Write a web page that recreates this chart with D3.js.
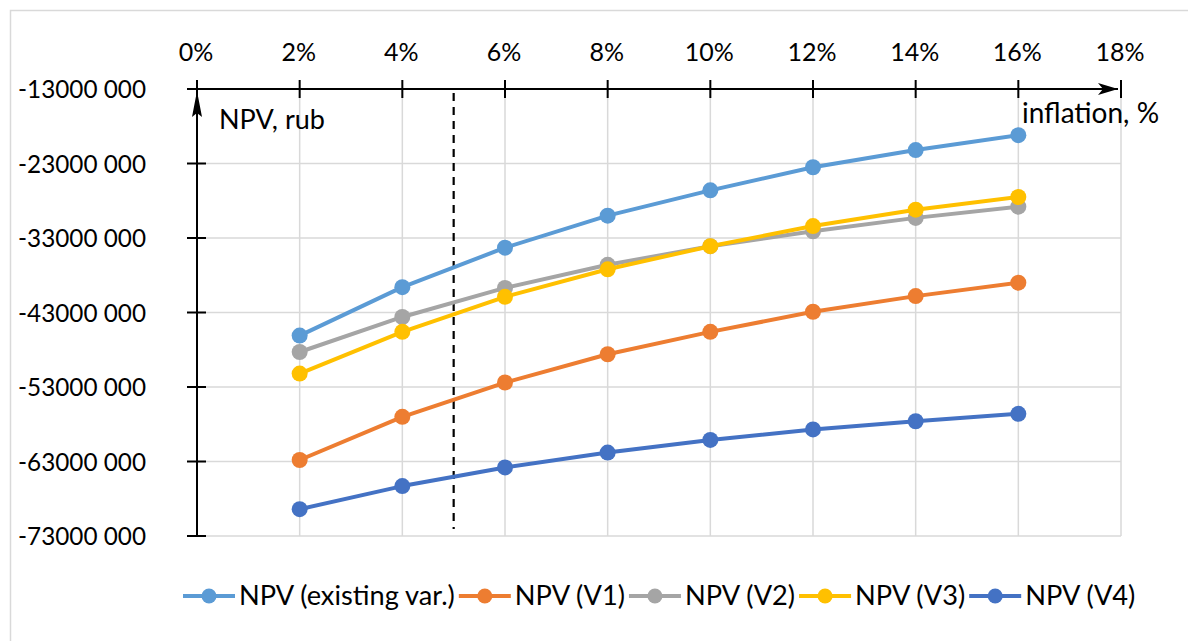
<!DOCTYPE html>
<html>
<head>
<meta charset="utf-8">
<script src="https://cdn.jsdelivr.net/npm/d3@7"></script>
<style>
  body { margin: 0; background: #fff; }
  text { font-family: Lato, "Open Sans", sans-serif; fill: #000; }
</style>
</head>
<body>
<div id="chart"></div>
<script>
// inflation, % (x) and NPV values (rub)
var inflation = [2, 4, 6, 8, 10, 12, 14, 16];
var npvExisting = [-46.1e6, -39.6e6, -34.3e6, -30.0e6, -26.6e6, -23.5e6, -21.2e6, -19.2e6];
var npvV1 = [-62.8e6, -57.0e6, -52.4e6, -48.6e6, -45.6e6, -42.9e6, -40.8e6, -39.0e6];
var npvV2 = [-48.3e6, -43.6e6, -39.7e6, -36.6e6, -34.1e6, -32.1e6, -30.3e6, -28.8e6];
var npvV3 = [-51.2e6, -45.6e6, -40.9e6, -37.2e6, -34.1e6, -31.4e6, -29.2e6, -27.5e6];
var npvV4 = [-69.4e6, -66.3e6, -63.8e6, -61.8e6, -60.1e6, -58.7e6, -57.6e6, -56.6e6];

var seriesNames = ["NPV (existing var.)", "NPV (V1)", "NPV (V2)", "NPV (V3)", "NPV (V4)"];
var seriesColors = ["#5b9bd5", "#ed7d31", "#a5a5a5", "#ffc000", "#4472c4"];
var seriesValues = [npvExisting, npvV1, npvV2, npvV3, npvV4];

var xTicks = [0, 2, 4, 6, 8, 10, 12, 14, 16, 18];
var yTicks = [-13e6, -23e6, -33e6, -43e6, -53e6, -63e6, -73e6];
var baseInflation = 5; // dashed line

var width = 1188;
var height = 641;

var svg = d3.select('#chart')
  .append("svg")
  .attr("width", width)
  .attr("height", height)

// outer chart border
svg.append("rect")
  .attr("x", 10.5).attr("y", 10.5)
  .attr("width", 1300).attr("height", 800)
  .attr("fill", "none")
  .attr("stroke", "#d9d9d9")
  .attr("stroke-width", 1.5)

var x = d3.scaleLinear().domain([0, 18]).range([197, 1121])
var y = d3.scaleLinear().domain([-73e6, -13e6]).range([536, 89])

function fmt(v) {
  var a = Math.abs(v);
  var s = Math.floor(a / 1000) + " " + d3.format("03d")(a % 1000);
  return (v < 0 ? "-" : "") + s;
}

// gridlines
svg.append("g").selectAll("line")
  .data(xTicks.slice(1))
  .enter().append("line")
  .attr("x1", function (d) { return x(d) }).attr("x2", function (d) { return x(d) })
  .attr("y1", y(-13e6)).attr("y2", y(-73e6))
  .attr("stroke", "#d9d9d9").attr("stroke-width", 1.5)

svg.append("g").selectAll("line")
  .data(yTicks.slice(1))
  .enter().append("line")
  .attr("x1", x(0)).attr("x2", x(18))
  .attr("y1", function (d) { return y(d) }).attr("y2", function (d) { return y(d) })
  .attr("stroke", "#d9d9d9").attr("stroke-width", 1.5)

// arrow heads
var defs = svg.append("defs")
defs.append("marker")
  .attr("id", "arrow")
  .attr("viewBox", "0 0 20 12")
  .attr("refX", 20).attr("refY", 6)
  .attr("markerWidth", 20).attr("markerHeight", 12)
  .attr("markerUnits", "userSpaceOnUse")
  .attr("orient", "auto")
  .append("path")
  .attr("d", "M0,0 L20,6 L0,12 L5,6 Z")
  .attr("fill", "#000")

defs.append("marker")
  .attr("id", "arrowY")
  .attr("viewBox", "0 0 26 10")
  .attr("refX", 26).attr("refY", 5)
  .attr("markerWidth", 26).attr("markerHeight", 10)
  .attr("markerUnits", "userSpaceOnUse")
  .attr("orient", "auto")
  .append("path")
  .attr("d", "M0,0 L26,5 L0,10 L4,5 Z")
  .attr("fill", "#000")

// x axis (on top, at -13 000 000)
var xAxis = svg.append("g")
xAxis.append("line")
  .attr("x1", 187).attr("x2", x(18) - 3)
  .attr("y1", y(-13e6)).attr("y2", y(-13e6))
  .attr("stroke", "#000").attr("stroke-width", 2)
  .attr("marker-end", "url(#arrow)")
xAxis.selectAll(".xtick")
  .data(xTicks)
  .enter().append("line")
  .attr("class", "xtick")
  .attr("x1", function (d) { return x(d) }).attr("x2", function (d) { return x(d) })
  .attr("y1", y(-13e6) - 9).attr("y2", y(-13e6) + 9)
  .attr("stroke", "#000").attr("stroke-width", 2)
xAxis.selectAll(".xlab")
  .data(xTicks)
  .enter().append("text")
  .attr("class", "xlab")
  .attr("x", function (d) { return x(d) - 1 })
  .attr("y", 61)
  .attr("text-anchor", "middle")
  .attr("font-size", 25)
  .text(function (d) { return d + "%" })

// y axis
var yAxis = svg.append("g")
yAxis.append("line")
  .attr("x1", x(0)).attr("x2", x(0))
  .attr("y1", y(-73e6)).attr("y2", y(-13e6) + 2)
  .attr("stroke", "#000").attr("stroke-width", 2)
  .attr("marker-end", "url(#arrowY)")
yAxis.selectAll(".ytick")
  .data(yTicks)
  .enter().append("line")
  .attr("class", "ytick")
  .attr("x1", x(0) - 10).attr("x2", x(0) + 9)
  .attr("y1", function (d) { return y(d) }).attr("y2", function (d) { return y(d) })
  .attr("stroke", "#000").attr("stroke-width", 2)
yAxis.selectAll(".ylab")
  .data(yTicks)
  .enter().append("text")
  .attr("class", "ylab")
  .attr("x", 146)
  .attr("y", function (d) { return y(d) + 9 })
  .attr("text-anchor", "end")
  .attr("font-size", 24.3)
  .text(function (d) { return fmt(d) })

// axis titles
svg.append("text").attr("x", 219).attr("y", 129).attr("font-size", 27).text("NPV, rub")
svg.append("text").attr("x", 1022).attr("y", 123).attr("font-size", 28).text("inflation, %")

// dashed line at base inflation
svg.append("line")
  .attr("x1", x(baseInflation)).attr("x2", x(baseInflation))
  .attr("y1", y(-13e6) + 4).attr("y2", 529)
  .attr("stroke", "#000").attr("stroke-width", 2.2)
  .attr("stroke-dasharray", "8,6")

// series
var line = d3.line()
  .x(function (d) { return x(d[0]) })
  .y(function (d) { return y(d[1]) })

seriesValues.forEach(function (vals, i) {
  var pts = inflation.map(function (v, j) { return [v, vals[j]] })
  var g = svg.append("g")
  g.append("path")
    .datum(pts)
    .attr("d", line)
    .attr("fill", "none")
    .attr("stroke", seriesColors[i])
    .attr("stroke-width", 4)
    .attr("stroke-linejoin", "round")
  g.selectAll("circle")
    .data(pts)
    .enter().append("circle")
    .attr("cx", function (d) { return x(d[0]) })
    .attr("cy", function (d) { return y(d[1]) })
    .attr("r", 8)
    .attr("fill", seriesColors[i])
})

// legend
var legend = svg.append("g")
var lx = 183
var ly = 596
seriesNames.forEach(function (name, i) {
  var item = legend.append("g")
  item.append("line")
    .attr("x1", lx).attr("x2", lx + 52)
    .attr("y1", ly).attr("y2", ly)
    .attr("stroke", seriesColors[i]).attr("stroke-width", 4)
  item.append("circle")
    .attr("cx", lx + 26).attr("cy", ly).attr("r", 7.5)
    .attr("fill", seriesColors[i])
  var t = item.append("text")
    .attr("x", lx + 56).attr("y", ly + 9)
    .attr("font-size", 27.2)
    .text(name)
  lx = lx + 56 + t.node().getComputedTextLength() + 4
})
</script>
</body>
</html>
